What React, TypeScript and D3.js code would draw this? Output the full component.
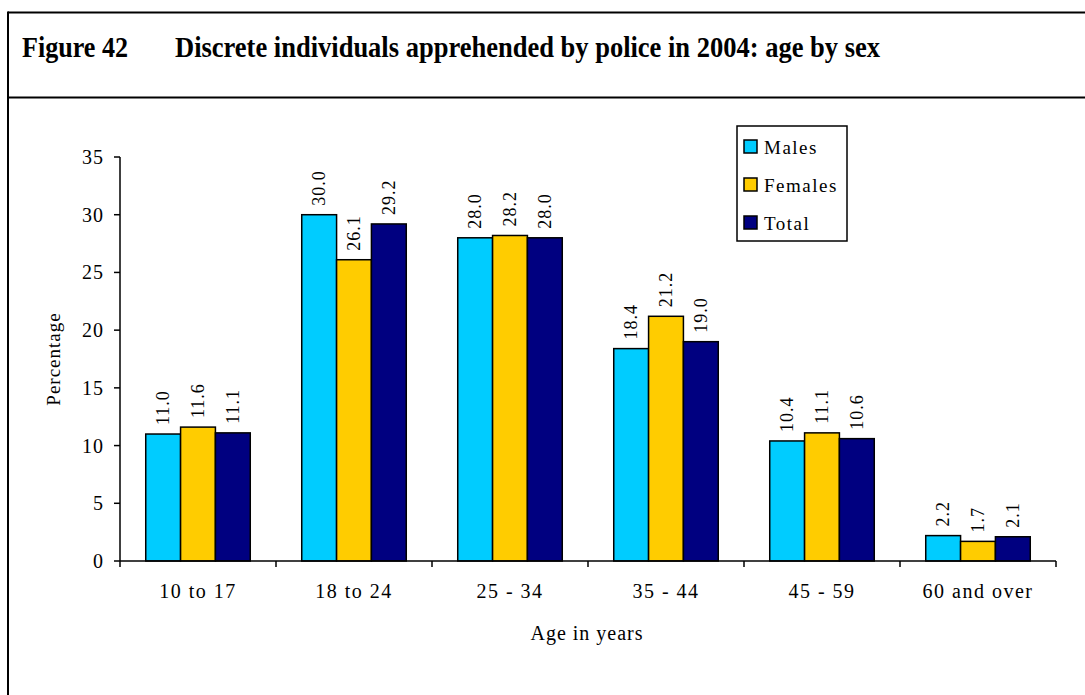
import React from "react";
import * as d3 from "d3";

const categories = ["10 to 17", "18 to 24", "25 - 34", "35 - 44", "45 - 59", "60 and over"];
const seriesNames = ["Males", "Females", "Total"];
const males = [11.0, 30.0, 28.0, 18.4, 10.4, 2.2];
const females = [11.6, 26.1, 28.2, 21.2, 11.1, 1.7];
const total = [11.1, 29.2, 28.0, 19.0, 10.6, 2.1];
const yTicks = [0, 5, 10, 15, 20, 25, 30, 35];
const colors = ["#00CCFF", "#FFCC00", "#000080"];

const W = 1085;
const H = 695;
const FONT = "'Liberation Serif', 'Times New Roman', serif";

export default function App() {
  const series = [males, females, total];
  const x0 = d3.scaleBand().domain(categories).range([120, 1056]).paddingInner(0).paddingOuter(0);
  const bw = x0.bandwidth();
  const groupW = bw * 0.67;
  const x1 = d3.scaleBand().domain(seriesNames).range([0, groupW]).padding(0);
  const y = d3.scaleLinear().domain([0, 35]).range([561, 157]);

  return (
    <svg width={W} height={H} style={{ position: "absolute", left: 0, top: 0, background: "#fff" }} fontFamily={FONT}>
      {/* frame */}
      <line x1={8} y1={12.5} x2={W + 2} y2={12.5} stroke="#000" strokeWidth={2} />
      <line x1={8} y1={11.5} x2={8} y2={H + 2} stroke="#000" strokeWidth={2} />
      <line x1={8} y1={97.5} x2={W + 2} y2={97.5} stroke="#000" strokeWidth={2} />
      <text x={22} y={57} fontSize={29} fontWeight="bold" textLength={106} lengthAdjust="spacingAndGlyphs">Figure 42</text>
      <text x={175} y={57} fontSize={29} fontWeight="bold" textLength={705} lengthAdjust="spacingAndGlyphs">
        Discrete individuals apprehended by police in 2004: age by sex
      </text>

      {/* y axis */}
      <line x1={120} y1={y(35)} x2={120} y2={y(0)} stroke="#000" strokeWidth={1.5} />
      {yTicks.map((t) => (
        <g key={t}>
          <line x1={114} x2={120} y1={y(t)} y2={y(t)} stroke="#000" strokeWidth={1.5} />
          <text x={104} y={y(t)} dy="0.35em" textAnchor="end" fontSize={20} letterSpacing={1}>{t}</text>
        </g>
      ))}
      <text transform={`translate(53,${(y(0) + y(35)) / 2}) rotate(-90)`} textAnchor="middle" dy="0.35em" fontSize={19} letterSpacing={1}>Percentage</text>

      {/* bars */}
      {categories.map((c, i) => {
        const gx = (x0(c) as number) + (bw - groupW) / 2;
        return (
          <g key={c}>
            {series.map((s, j) => {
              const bx = gx + (x1(seriesNames[j]) as number);
              const w = x1.bandwidth();
              return (
                <g key={j}>
                  <rect x={bx} y={y(s[i])} width={w} height={y(0) - y(s[i])} fill={colors[j]} stroke="#000" strokeWidth={1.5} />
                  <text transform={`translate(${bx + w / 2},${y(s[i]) - 9}) rotate(-90)`} dy="0.35em" fontSize={18} letterSpacing={1}>
                    {s[i].toFixed(1)}
                  </text>
                </g>
              );
            })}
          </g>
        );
      })}

      {/* x axis */}
      <line x1={120} x2={1056} y1={y(0)} y2={y(0)} stroke="#000" strokeWidth={1.5} />
      {categories.map((c, i) => (
        <line key={"t" + i} x1={x0(c) as number} x2={x0(c) as number} y1={y(0)} y2={y(0) + 6} stroke="#000" strokeWidth={1.5} />
      ))}
      <line x1={1056} x2={1056} y1={y(0)} y2={y(0) + 6} stroke="#000" strokeWidth={1.5} />
      {categories.map((c) => (
        <text key={"l" + c} x={(x0(c) as number) + bw / 2} y={598} textAnchor="middle" fontSize={20} letterSpacing={1.5}>{c}</text>
      ))}
      <text x={587} y={640} textAnchor="middle" fontSize={20} letterSpacing={1}>Age in years</text>

      {/* legend */}
      <rect x={737} y={126} width={110} height={115} fill="#fff" stroke="#000" strokeWidth={1.5} />
      {seriesNames.map((n, j) => (
        <g key={n}>
          <rect x={744} y={140 + j * 38} width={13} height={13} fill={colors[j]} stroke="#000" strokeWidth={1.5} />
          <text x={764} y={147 + j * 38} dy="0.35em" fontSize={19} letterSpacing={1.5}>{n}</text>
        </g>
      ))}
    </svg>
  );
}
